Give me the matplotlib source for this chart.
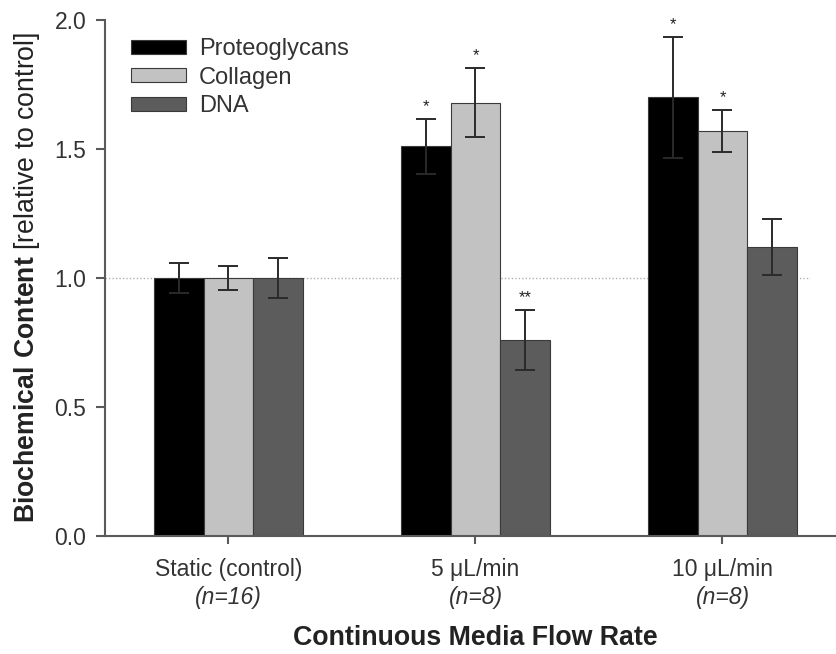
import matplotlib.pyplot as plt
import numpy as np

plt.rcParams['font.family'] = ['Liberation Sans', 'DejaVu Sans']
plt.rcParams['mathtext.fontset'] = 'custom'
plt.rcParams['mathtext.rm'] = 'Liberation Sans'
plt.rcParams['mathtext.bf'] = 'Liberation Sans:bold'

# data: content relative to static control, mean +/- error
groups = ["Static (control)", "5 \u03bcL/min", "10 \u03bcL/min"]
n_labels = ["(n=16)", "(n=8)", "(n=8)"]
series = ["Proteoglycans", "Collagen", "DNA"]

proteoglycans = [1.0, 1.51, 1.70]
collagen = [1.0, 1.68, 1.57]
dna = [1.0, 0.76, 1.12]

proteoglycans_err = [0.06, 0.105, 0.235]
collagen_err = [0.045, 0.135, 0.08]
dna_err = [0.077, 0.115, 0.11]

proteoglycans_sig = ["", "*", "*"]
collagen_sig = ["", "*", "*"]
dna_sig = ["", "**", ""]

colors = ["#000000", "#c2c2c2", "#5c5c5c"]
axis_col = "#5a5a5a"

fig = plt.figure(figsize=(8.37, 6.54), dpi=100)
ax = fig.add_axes([105 / 837, 118 / 654, 741 / 837, 516 / 654])

x = np.arange(len(groups))
width = 0.2
offsets = [-width, 0.0, width]

means = [proteoglycans, collagen, dna]
errs = [proteoglycans_err, collagen_err, dna_err]
sigs = [proteoglycans_sig, collagen_sig, dna_sig]

# reference line at control level
ax.hlines(1.0, -0.5, 2.355, colors="#b0b0b0", linestyles=(0, (1, 1.5)), lw=1, zorder=0)

for name, m, e, s, c, off in zip(series, means, errs, sigs, colors, offsets):
    ax.bar(x + off, m, width, color=c, edgecolor="#3a3a3a", linewidth=0.8,
           label=name, zorder=2)
    ax.errorbar(x + off, m, yerr=e, fmt="none", ecolor="#2a2a2a", elinewidth=1.4,
                capsize=7, capthick=1.4, zorder=3)
    for xi, mi, ei, si in zip(x + off, m, e, s):
        if si:
            ax.text(xi, mi + ei + 0.03, si, ha="center", va="baseline",
                    fontsize=12, color="#222222")

ax.set_xlim(-0.5, 2.5)
ax.set_ylim(0, 2.0)
ax.set_yticks([0.0, 0.5, 1.0, 1.5, 2.0])
ax.set_yticklabels(["0.0", "0.5", "1.0", "1.5", "2.0"])
ax.set_xticks(x)
ax.set_xticklabels(groups)

for side in ["top", "right"]:
    ax.spines[side].set_visible(False)
for side in ["left", "bottom"]:
    ax.spines[side].set_color(axis_col)
    ax.spines[side].set_linewidth(1.5)

ax.tick_params(axis="y", direction="out", length=6.5, width=1.5, color=axis_col,
               pad=7, labelsize=16.5, labelcolor="#333333")
ax.tick_params(axis="x", direction="out", length=6, width=1.5, color=axis_col,
               pad=10, labelsize=16.5, labelcolor="#333333")

# sample sizes under each group name
for xi, n in zip(x, n_labels):
    ax.text(xi, -0.120, n, ha="center", va="center", fontsize=16.5,
            style="italic", color="#333333", transform=ax.get_xaxis_transform())

fig.text(475 / 837, 1 - 638 / 654, "Continuous Media Flow Rate",
         ha="center", va="center", fontsize=19.3, fontweight="bold", color="#222222")
fig.text(27 / 837, 1 - 277 / 654, r"$\mathbf{Biochemical\ Content}$ [relative to control]",
         ha="center", va="center", rotation=90, fontsize=19.2, color="#222222")

leg = ax.legend(loc="upper left", bbox_to_anchor=(131 / 837, 1 - 38 / 654),
                bbox_transform=fig.transFigure, frameon=False, fontsize=17,
                handlelength=2.33, handleheight=0.55, handletextpad=0.55,
                labelspacing=0.28, borderpad=0, borderaxespad=0)
for t in leg.get_texts():
    t.set_color("#333333")

fig.savefig("out.png", dpi=100)
